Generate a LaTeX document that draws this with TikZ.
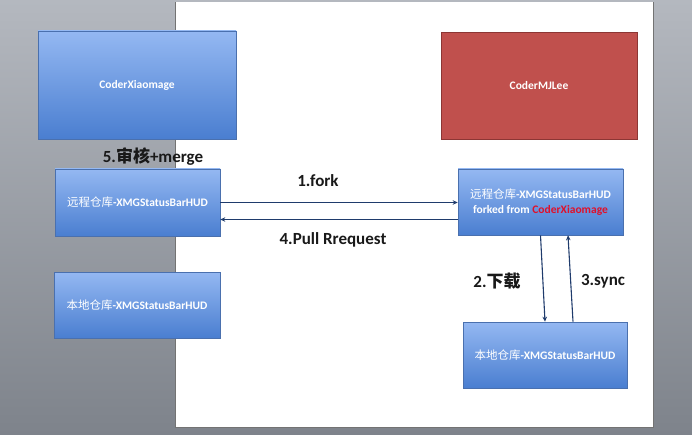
\documentclass[tikz,border=0pt]{standalone}
\usepackage{fontspec}
\setmainfont{Carlito}
\newfontfamily\cjk{Noto Sans CJK SC}
\newcommand{\cjkm}[1]{{\cjk\mdseries #1}}
\usetikzlibrary{arrows.meta}
\definecolor{bgtop}{HTML}{B4B8BF}
\definecolor{bgbot}{HTML}{7E838B}
\definecolor{bluetop}{HTML}{94B8F2}
\definecolor{bluebot}{HTML}{4A7ED0}
\definecolor{blueline}{HTML}{4A70AE}
\definecolor{redfill}{HTML}{C0504D}
\definecolor{redline}{HTML}{8C3634}
\definecolor{arrowc}{HTML}{1F3B6C}
\definecolor{forkred}{HTML}{E0102A}
\tikzset{
  bluebox/.style={rectangle, draw=blueline, line width=0.6pt, top color=bluetop, bottom color=bluebot,
    text=white, font=\bfseries\fontsize{11.5}{15}\selectfont, inner sep=0pt, align=center},
  redbox/.style={rectangle, draw=redline, line width=0.6pt, fill=redfill,
    text=white, font=\bfseries\fontsize{11.5}{15}\selectfont, inner sep=0pt},
  flow/.style={draw=arrowc, line width=1.1pt, -{Stealth[length=5pt,width=4.5pt]}},
  lbl/.style={text=black!90, font=\bfseries\fontsize{17}{20}\selectfont, inner sep=0pt}
}
\begin{document}
\begin{tikzpicture}[x=1pt,y=-1pt]
\useasboundingbox (0,0) rectangle (692,435);
\shade[top color=bgtop, bottom color=bgbot] (0,0) rectangle (692,435);
\fill[black!55] (175,2) rectangle (654,428);
\fill[white] (176,2) rectangle (653,427);

\node[bluebox, minimum width=198pt, minimum height=108pt] (xiao) at (137,85) {CoderXiaomage};
\node[redbox, minimum width=196pt, minimum height=107pt] (mj) at (539,85.5) {CoderMJLee};
\node[bluebox, minimum width=165pt, minimum height=67pt] (remL) at (137.5,202.5) {\cjkm{远程仓库}-XMGStatusBarHUD};
\node[bluebox, minimum width=165pt, minimum height=66pt] (remR) at (540.5,202) {\cjkm{远程仓库}-XMGStatusBarHUD\\forked from {\color{forkred}CoderXiaomage}};
\node[bluebox, minimum width=166pt, minimum height=66pt] (locL) at (137,305) {\cjkm{本地仓库}-XMGStatusBarHUD};
\node[bluebox, minimum width=164pt, minimum height=66pt] (locR) at (545,355) {\cjkm{本地仓库}-XMGStatusBarHUD};

\draw[flow] (remL.east) -- (remL.east -| remR.west);
\draw[flow] ([yshift=-17.5pt]remR.west) -- ([yshift=-17.5pt]remR.west -| remL.east);
\draw[flow] (remR.south) -- (locR.north);
\draw[flow] ([xshift=28pt]locR.north) -- ([xshift=27.5pt]remR.south);

\node[lbl] (l5) at (153,157) {5.{\cjk 审核}+merge};
\node[lbl] (l1) at (318,181) {1.fork};
\node[lbl] (l4) at (333,240) {4.Pull Rrequest};
\node[lbl] (l2) at (497,281) {2.{\cjk 下载}};
\node[lbl] (l3) at (603,281) {3.sync};
\end{tikzpicture}
\end{document}
